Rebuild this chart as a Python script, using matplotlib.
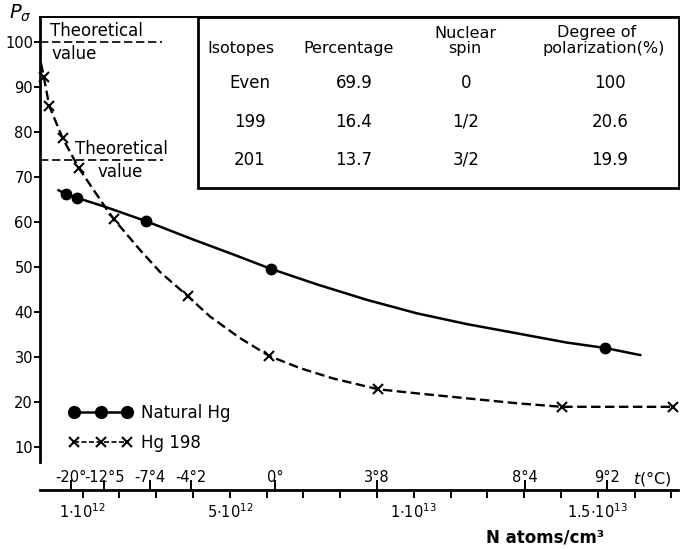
import matplotlib
matplotlib.use('Agg')
import matplotlib.pyplot as plt
from matplotlib.lines import Line2D
from matplotlib.patches import Rectangle
import matplotlib.transforms as mtransforms

plt.rcParams['font.family'] = ['DejaVu Sans']

# ---------------- data ----------------
natural_N = [0.546, 0.837, 2.72, 6.11, 15.19]          # 1e12 atoms/cm3
natural_P = [66.2, 65.4, 60.2, 49.6, 32.0]
natural_curve_N = [0.337, 0.546, 0.837, 1.606, 2.72, 4.005, 5.09, 6.11, 7.36, 8.72,
                   10.08, 11.44, 12.80, 14.15, 15.19, 16.16]
natural_curve_P = [67.1, 66.2, 65.4, 63.4, 60.2, 56.1, 52.8, 49.6, 46.15, 42.7,
                   39.7, 37.3, 35.25, 33.2, 32.0, 30.4]

hg198_N = [-0.057, 0.092, 0.457, 0.899, 1.851, 3.853, 6.071, 9.033, 14.02, 17.05]
hg198_P = [92.3, 85.8, 78.6, 71.95, 60.6, 43.55, 30.2, 22.8, 18.9, 18.9]
hg198_curve_N = [-0.133, -0.057, 0.092, 0.457, 0.899, 1.606, 1.851, 2.557, 3.101, 3.853,
                 4.459, 5.274, 6.071, 6.91, 7.81, 9.033, 10.08, 11.43, 12.79, 14.02,
                 15.51, 17.05]
hg198_curve_P = [95.3, 92.3, 85.8, 78.6, 71.95, 63.4, 60.6, 53.8, 48.9, 43.55,
                 39.0, 34.2, 30.2, 27.5, 25.2, 22.8, 21.9, 20.8, 19.7, 18.9,
                 18.9, 18.9]

theoretical_levels = [100.0, 73.8]
theoretical_end_N = [3.15, 3.18]

y_ticks = [10, 20, 30, 40, 50, 60, 70, 80, 90, 100]
n_ticks = list(range(1, 18))
n_tick_labels = {1: r'$1{\cdot}10^{12}$', 5: r'$5{\cdot}10^{12}$',
                 10: r'$1{\cdot}10^{13}$', 15: r'$1.5{\cdot}10^{13}$'}
temp_N = [0.67, 1.58, 2.83, 3.95, 6.23, 8.99, 13.02, 15.24]
temp_labels = ['-20°', '-12°5', '-7°4', '-4°2', '0°', '3°8', '8°4', '9°2']

table_header1 = ['', '', 'Nuclear', 'Degree of']
table_header2 = ['Isotopes', 'Percentage', 'spin', 'polarization(%)']
isotopes = ['Even', '199', '201']
percentage = ['69.9', '16.4', '13.7']
nuclear_spin = ['0', '1/2', '3/2']
polarization = ['100', '20.6', '19.9']

# ---------------- figure ----------------
W, H = 680, 549
fig = plt.figure(figsize=(W / 100, H / 100), dpi=100)
ax = fig.add_axes([40 / W, 1 - 490 / H, 638 / W, 473 / H])
ax.set_xlim(-0.16, 17.18)
ax.set_ylim(0.40, 105.6)

def px(x, y):
    """figure pixel (from top-left) -> axes fraction"""
    return (x - 40) / 638, (490 - y) / 473

# spines
ax.spines['right'].set_visible(False)
ax.spines['left'].set_bounds(6.63, 105.6)
ax.spines['left'].set_linewidth(2.0)
ax.spines['bottom'].set_linewidth(2.0)
ax.spines['top'].set_linewidth(1.4)

ax.set_yticks(y_ticks)
ax.set_yticklabels([str(v) for v in y_ticks], fontsize=10.5)
ax.tick_params(axis='y', direction='out', length=4, width=1.4, pad=1)

ax.set_xticks(n_ticks)
ax.set_xticklabels([n_tick_labels.get(t, '') for t in n_ticks], fontsize=10.5)
ax.set_xticks(temp_N, minor=True)
ax.tick_params(axis='x', which='major', direction='out', length=6, width=1.4, pad=3,
               top=False)
ax.tick_params(axis='x', which='minor', direction='in', length=7, width=1.4,
               top=False, labelbottom=False)

blend = mtransforms.blended_transform_factory(ax.transData, ax.transAxes)
for tn, tl in zip(temp_N, temp_labels):
    ax.text(tn, px(0, 478)[1], tl, transform=blend, ha='center', va='center', fontsize=10.5)
ax.text(*px(633, 478), r'$t$(°C)', transform=ax.transAxes, ha='left', va='center',
        fontsize=11.5)

fig.text(545 / W, 1 - 538 / H, 'N atoms/cm³', ha='center', va='center',
         fontsize=12, fontweight='bold')
fig.text(20 / W, 1 - 13 / H, r'$P_\sigma$', ha='center', va='center', fontsize=14)

# theoretical lines
for lvl, end in zip(theoretical_levels, theoretical_end_N):
    ax.plot([-0.16, end], [lvl, lvl], color='black', lw=1.2, dashes=(5, 2.2))
ax.text(*px(50, 31), 'Theoretical', transform=ax.transAxes, ha='left', va='center', fontsize=12)
ax.text(*px(51, 54), 'value', transform=ax.transAxes, ha='left', va='center', fontsize=12)
ax.text(*px(75, 149), 'Theoretical', transform=ax.transAxes, ha='left', va='center', fontsize=12)
ax.text(*px(98, 172), 'value', transform=ax.transAxes, ha='left', va='center', fontsize=12)

# curves
ax.plot(natural_curve_N, natural_curve_P, color='black', lw=1.8, solid_capstyle='round',
        solid_joinstyle='round')
ax.plot(natural_N, natural_P, ls='none', marker='o', ms=7.5, color='black')
ax.plot(hg198_curve_N, hg198_curve_P, color='black', lw=1.7, dashes=(4, 1.9), clip_on=False)
ax.plot(hg198_N, hg198_P, ls='none', marker='x', ms=6.5, mew=1.5, color='black', clip_on=False)

# legend
h1 = Line2D([], [], color='black', lw=1.8, marker='o', ms=8.5)
h2 = Line2D([], [], color='black', lw=1.2, ls=(0, (3, 1.5)), marker='x', ms=6.5, mew=1.5)
leg = ax.legend([h1, h2], ['Natural Hg', 'Hg 198'], numpoints=3, frameon=False,
                loc='upper left', bbox_to_anchor=px(69, 404), fontsize=12,
                handlelength=3.8, handletextpad=0.5, labelspacing=0.7,
                borderpad=0, borderaxespad=0)

# table box
rx0, ry0 = px(198, 188)
rx1, ry1 = px(679, 17)
ax.add_patch(Rectangle((rx0, ry0), rx1 - rx0, ry1 - ry0, transform=ax.transAxes,
                       fill=False, lw=2.0, ec='black', clip_on=False))
col_hdr_x = [241, 349, 465, 542]
col_val_x = [250, 354, 466, 610]
for i, (a, b) in enumerate(zip(table_header1, table_header2)):
    ha = 'left' if i == 3 else 'center'
    if a:
        ax.text(*px(col_hdr_x[i] if i < 3 else 557, 33), a, transform=ax.transAxes,
                ha='left' if i == 3 else 'center', va='center', fontsize=11.5)
    ax.text(*px(col_hdr_x[i], 48), b, transform=ax.transAxes, ha=ha, va='center',
            fontsize=11.5, clip_on=True)
row_y = [83, 122, 160]
for r in range(3):
    for c, col in enumerate([isotopes, percentage, nuclear_spin, polarization]):
        ax.text(*px(col_val_x[c], row_y[r]), col[r], transform=ax.transAxes,
                ha='center', va='center', fontsize=12)

fig.savefig('out.png', dpi=100)
